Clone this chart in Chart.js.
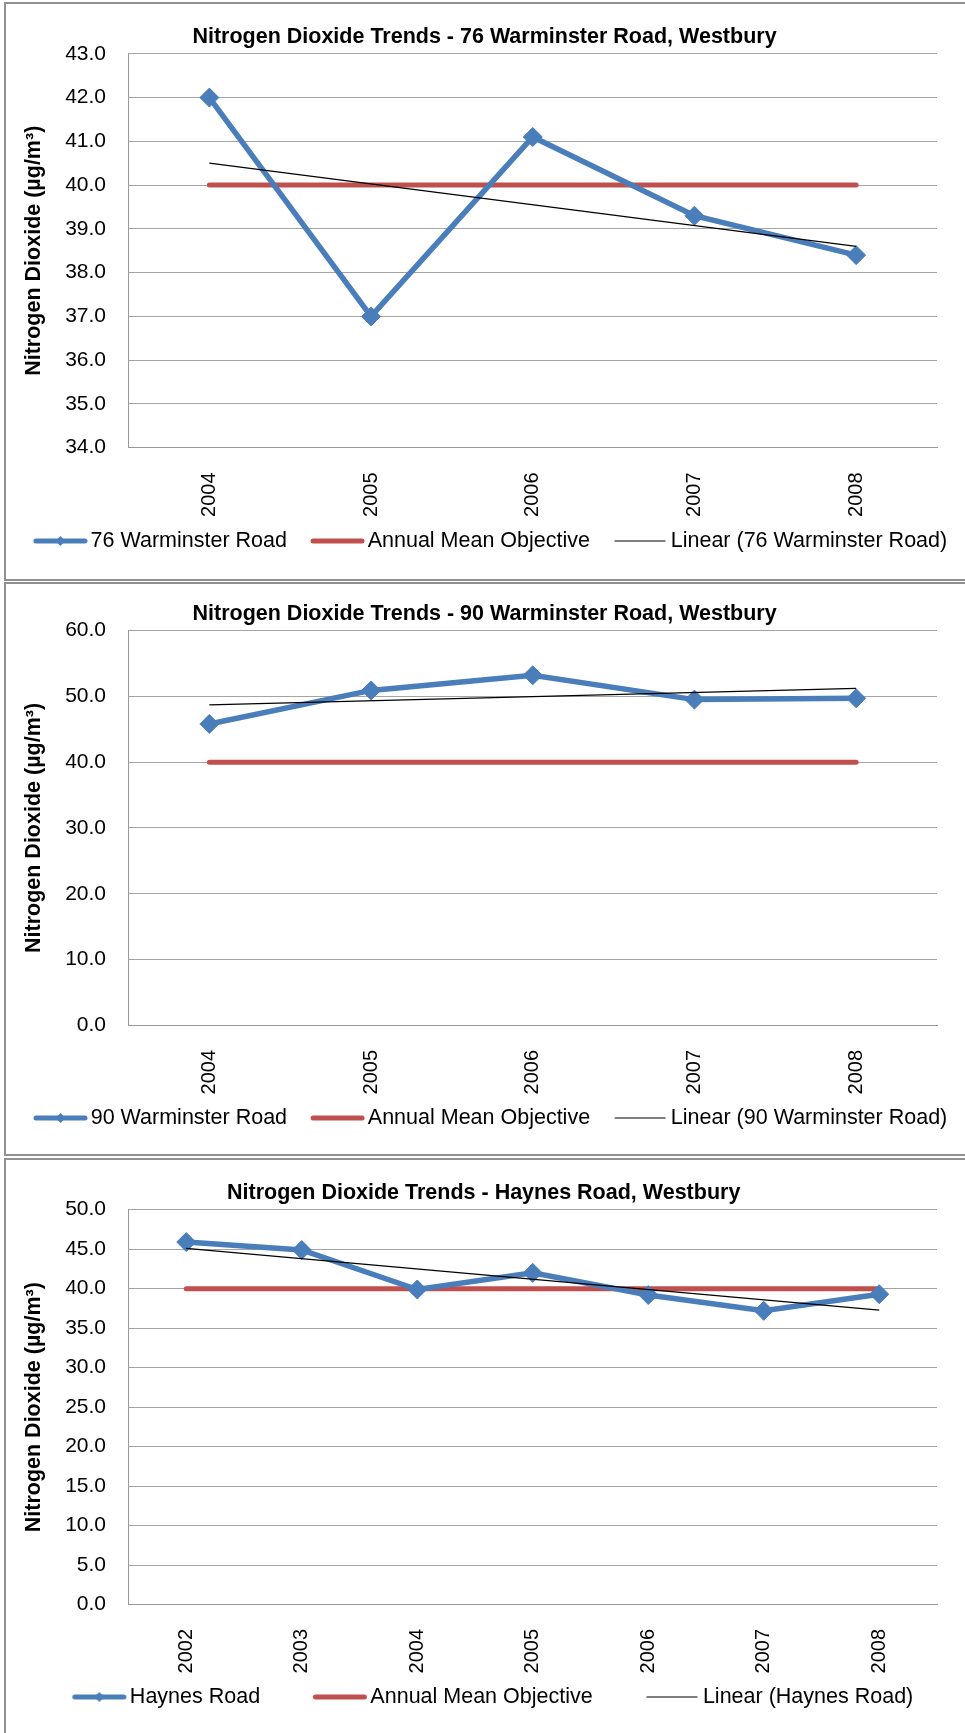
<!DOCTYPE html>
<html>
<head>
<meta charset="utf-8">
<script src="https://cdn.jsdelivr.net/npm/chart.js@4.4.1/dist/chart.umd.min.js"></script>
<style>
  html, body { margin: 0; padding: 0; background: #ffffff; width: 965px; height: 1733px; overflow: hidden; }
  .box { position: absolute; left: 4px; width: 959px; border: 2px solid #909090; border-right: none; }
  canvas { position: absolute; }
</style>
</head>
<body>
<div class="box" style="top:2px;height:575px"></div>
<div class="box" style="top:582px;height:570px"></div>
<div class="box" style="top:1158px;height:600px;border-bottom:none"></div>
<canvas id="c1"></canvas>
<canvas id="c2"></canvas>
<canvas id="c3"></canvas>
<script>
// ---------------- DATA ----------------
const axisTitle = 'Nitrogen Dioxide (µg/m³)';
const objectiveName = 'Annual Mean Objective';

// Chart 1 – 76 Warminster Road
const title1 = 'Nitrogen Dioxide Trends - 76 Warminster Road, Westbury';
const years1 = ['2004', '2005', '2006', '2007', '2008'];
const name1 = '76 Warminster Road';
const road76 = [42.0, 37.0, 41.1, 39.3, 38.4];
const objective1 = [40, 40, 40, 40, 40];
const trendName1 = 'Linear (76 Warminster Road)';
const trend76 = [40.5, null, null, null, 38.6];
const yTicks1 = [34, 35, 36, 37, 38, 39, 40, 41, 42, 43];

// Chart 2 – 90 Warminster Road
const title2 = 'Nitrogen Dioxide Trends - 90 Warminster Road, Westbury';
const years2 = ['2004', '2005', '2006', '2007', '2008'];
const name2 = '90 Warminster Road';
const road90 = [45.8, 50.9, 53.2, 49.5, 49.7];
const objective2 = [40, 40, 40, 40, 40];
const trendName2 = 'Linear (90 Warminster Road)';
const trend90 = [48.7, null, null, null, 51.2];
const yTicks2 = [0, 10, 20, 30, 40, 50, 60];

// Chart 3 – Haynes Road
const title3 = 'Nitrogen Dioxide Trends - Haynes Road, Westbury';
const years3 = ['2002', '2003', '2004', '2005', '2006', '2007', '2008'];
const name3 = 'Haynes Road';
const haynes = [45.9, 44.9, 39.9, 42.0, 39.2, 37.2, 39.3];
const objective3 = [40, 40, 40, 40, 40, 40, 40];
const trendName3 = 'Linear (Haynes Road)';
const trendHaynes = [45.1, null, null, null, null, null, 37.3];
const yTicks3 = [0, 5, 10, 15, 20, 25, 30, 35, 40, 45, 50];

// ---------------- STYLE / LAYOUT ----------------
const FONT = "'Liberation Sans', Arial, Helvetica, sans-serif";
Chart.defaults.font.family = FONT;
Chart.defaults.color = '#000000';
const BLUE = '#4A7EBB', RED = '#C0504D', GRID = '#a4a4a4', AXIS = '#999999';
const FS = 21, TFS = 21.5, LFS = 21.5, XFS = 20, LP = 12;
const X0 = 6, CW = 959, PLOT_LEFT = 128.5, PLOT_RIGHT = 937, AXIS_TITLE_X = 34.5;

// legend symbol: a 54px line sample ending 3px before the text
function legendIcon(kind, pw) {
  const c = document.createElement('canvas');
  c.width = Math.round(pw + 16); c.height = 12;
  const g = c.getContext('2d');
  const a = pw - 38.5, b = pw + 15.5;
  if (kind === 'trend') {
    g.strokeStyle = '#000'; g.lineWidth = 1.2; g.lineCap = 'butt';
    g.beginPath(); g.moveTo(a + 1, 6); g.lineTo(b - 2, 6); g.stroke();
  } else {
    g.strokeStyle = kind === 'series' ? BLUE : RED; g.lineWidth = 5; g.lineCap = 'round';
    g.beginPath(); g.moveTo(a + 2.5, 6); g.lineTo(b - 2.5, 6); g.stroke();
    if (kind === 'series') {
      const m = (a + b) / 2;
      g.fillStyle = BLUE;
      g.beginPath(); g.moveTo(m - 5, 6); g.lineTo(m, 1); g.lineTo(m + 5, 6); g.lineTo(m, 11); g.closePath(); g.fill();
    }
  }
  return c;
}

function makeChart(id, geo, title, labels, name, values, objective, trendName, trend, yTicks) {
  const LH = FS * 1.2, TLH = TFS * 1.2;
  const PW = 46.5 + geo.legendGap - LP;
  const icons = [legendIcon('series', PW), legendIcon('objective', PW), legendIcon('trend', PW)];
  const H = geo.height;
  let L, R;
  if (geo.legendAlign === 'start') {
    L = (geo.legendStart - X0) - LP - (PW - 46.5);
    R = L - (2 * (geo.titleCX - X0) - CW);
  } else {
    R = 0;
    L = 2 * (geo.titleCX - X0) - CW;
  }
  const yW = (PLOT_LEFT - X0) - L;
  const rW = CW - R - (PLOT_RIGHT - X0);
  const titleTop = (geo.titleY - geo.top) - TLH / 2;
  const titleBottom = (geo.plotTop - geo.top) - titleTop - TLH;
  const Lb = H - (geo.legendY - geo.top) - 10 - LFS / 2;
  const legendH = LFS + LP + 10;
  const xH = (H - Lb - legendH) - (geo.plotBottom - geo.top);
  const tickPad = geo.labelTop - geo.plotBottom;

  const canvas = document.getElementById(id);
  canvas.width = CW; canvas.height = H;
  canvas.style.left = X0 + 'px'; canvas.style.top = geo.top + 'px';
  canvas.style.width = CW + 'px'; canvas.style.height = H + 'px';

  return new Chart(canvas, {
    type: 'line',
    data: {
      labels: labels,
      datasets: [
        { label: name, data: values, borderColor: BLUE, backgroundColor: BLUE, borderWidth: 5.5,
          pointStyle: 'rectRot', pointRadius: 9.5, pointBorderWidth: 1,
          pointBackgroundColor: BLUE, pointBorderColor: BLUE, order: 1, clip: false },
        { label: objectiveName, data: objective, borderColor: RED, backgroundColor: RED, borderWidth: 5,
          borderCapStyle: 'round', pointRadius: 0, order: 2 },
        { label: trendName, data: trend, borderColor: '#000000', backgroundColor: '#000000', borderWidth: 1.2,
          pointRadius: 0, spanGaps: true, order: 0 }
      ]
    },
    options: {
      responsive: false,
      animation: false,
      devicePixelRatio: 1,
      events: [],
      layout: { padding: { left: L, right: R, top: 0, bottom: Lb } },
      plugins: {
        tooltip: { enabled: false },
        title: { display: true, text: title, color: '#000',
                 font: { size: TFS, weight: 'bold', family: FONT },
                 padding: { top: titleTop, bottom: titleBottom } },
        legend: {
          position: 'bottom', align: geo.legendAlign,
          labels: {
            usePointStyle: true, pointStyleWidth: PW, padding: LP, color: '#000',
            font: { size: LFS, family: FONT },
            generateLabels: (chart) => chart.data.datasets.map((ds, i) => ({
              text: ds.label, datasetIndex: i, hidden: false, pointStyle: icons[i],
              fillStyle: 'rgba(0,0,0,0)', strokeStyle: 'rgba(0,0,0,0)', lineWidth: 0, fontColor: '#000'
            }))
          }
        }
      },
      scales: {
        x: {
          type: 'category', offset: true,
          grid: { display: false, drawTicks: false },
          border: { display: true, color: AXIS, width: 1 },
          ticks: { autoSkip: false, minRotation: 90, maxRotation: 90, padding: tickPad,
                   color: '#000', font: { size: XFS } },
          afterFit: (s) => { s.height = xH; }
        },
        y: {
          type: 'linear', position: 'left',
          min: yTicks[0], max: yTicks[yTicks.length - 1],
          afterBuildTicks: (s) => { s.ticks = yTicks.map(v => ({ value: v })); },
          grid: { color: GRID, lineWidth: 1, drawTicks: false },
          border: { display: true, color: AXIS, width: 1 },
          ticks: { padding: 22.5, color: '#000', font: { size: FS },
                   callback: (v) => Number(v).toFixed(1) },
          title: { display: true, text: axisTitle, color: '#000',
                   font: { size: TFS, weight: 'bold', family: FONT },
                   padding: { top: (AXIS_TITLE_X - X0) - L - TLH / 2, bottom: 0 } },
          afterFit: (s) => { s.width = yW; }
        },
        yR: {
          type: 'linear', position: 'right', display: true,
          grid: { display: false, drawTicks: false },
          border: { display: false },
          ticks: { display: false },
          afterFit: (s) => { s.width = rW; }
        }
      }
    }
  });
}

const G1 = { top: 4, height: 575, titleY: 37, titleCX: 484.5, plotTop: 53.8, plotBottom: 447.7, labelTop: 472.5,
             legendY: 541, legendAlign: 'center', legendGap: 23.5 };
const G2 = { top: 584, height: 570, titleY: 614, titleCX: 484.6, plotTop: 630.5, plotBottom: 1025.4, labelTop: 1050,
             legendY: 1118, legendAlign: 'center', legendGap: 23.5 };
const G3 = { top: 1160, height: 573, titleY: 1193, titleCX: 483.7, plotTop: 1209.7, plotBottom: 1604.7, labelTop: 1629,
             legendY: 1697, legendAlign: 'start', legendStart: 72.6, legendGap: 53 };

makeChart('c1', G1, title1, years1, name1, road76, objective1, trendName1, trend76, yTicks1);
makeChart('c2', G2, title2, years2, name2, road90, objective2, trendName2, trend90, yTicks2);
makeChart('c3', G3, title3, years3, name3, haynes, objective3, trendName3, trendHaynes, yTicks3);
</script>
</body>
</html>
